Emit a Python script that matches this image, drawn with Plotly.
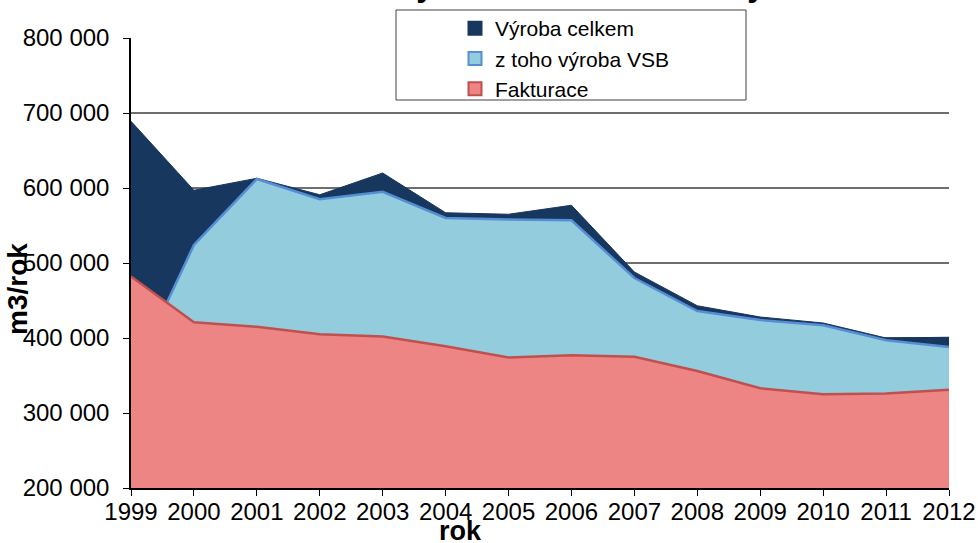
import plotly.graph_objects as go

years = [1999, 2000, 2001, 2002, 2003, 2004, 2005, 2006, 2007, 2008, 2009, 2010, 2011, 2012]
vyroba_celkem = [689000, 597000, 613000, 591000, 620000, 567000, 565000, 577000, 488000, 443000, 428000, 420000, 400000, 401000]
vyroba_vsb = [345000, 524000, 612000, 585000, 595000, 560000, 558000, 557000, 480000, 436000, 424000, 417000, 397000, 388000]
fakturace = [482000, 421000, 415000, 405000, 402000, 389000, 374000, 377000, 375000, 356000, 333000, 325000, 326000, 331000]

series_names = ["Výroba celkem", "z toho výroba VSB", "Fakturace"]
fill_colors = ["#17375E", "#93CDDD", "#ED8585"]
line_colors = ["#17375E", "#558ED5", "#C0504D"]
line_widths = [1, 2.5, 2.5]

y_ticks = [200000, 300000, 400000, 500000, 600000, 700000, 800000]
grid_vals = [300000, 400000, 500000, 600000, 700000]

FONT = "Liberation Sans, Arial, sans-serif"

fig = go.Figure()
for name, vals, fc, lc, lw in zip(series_names, [vyroba_celkem, vyroba_vsb, fakturace],
                                  fill_colors, line_colors, line_widths):
    fig.add_trace(go.Scatter(
        x=years, y=vals, mode="lines", fill="tozeroy", fillcolor=fc,
        line=dict(color=lc, width=lw), name=name, showlegend=False,
        hoverinfo="x+y+name"))

# legend entries with square swatches
for name, fc, lc in zip(series_names, fill_colors, line_colors):
    fig.add_trace(go.Scatter(
        x=[None], y=[None], mode="markers", name=name,
        marker=dict(symbol="square", size=13, color=fc, line=dict(color=lc, width=2))))

W, H = 978, 543
L, R, T, B = 131, 29, 38, 55
PW, PH = W - L - R, H - T - B

def px_x(x):
    return (x - L) / PW

def px_y(y):
    return (H - B - y) / PH

fig.update_layout(
    width=W, height=H,
    margin=dict(l=L, r=R, t=T, b=B, pad=0, autoexpand=False),
    paper_bgcolor="white", plot_bgcolor="white",
    separators=", ",
    font=dict(family=FONT, size=24, color="#000000"),
    showlegend=True,
    legend=dict(
        x=px_x(455), y=px_y(8), xanchor="left", yanchor="top",
        bgcolor="rgba(0,0,0,0)", borderwidth=0,
        font=dict(family=FONT, size=21, color="#000000"),
        tracegroupgap=0, itemwidth=30,
    ),
    shapes=[dict(type="rect", xref="paper", yref="paper",
                 x0=px_x(396), x1=px_x(746), y0=px_y(100), y1=px_y(10),
                 line=dict(color="#404040", width=1), fillcolor="white", layer="above")],
    annotations=[
        dict(text="<b>Výroba a fakturace vody</b>", xref="paper", yref="paper",
             x=px_x(580), y=px_y(5), xanchor="center", yanchor="bottom",
             showarrow=False, font=dict(family=FONT, size=32, color="#000000")),
        dict(text="<b>m3/rok</b>", xref="paper", yref="paper",
             x=px_x(17), y=px_y(289), xanchor="center", yanchor="middle", textangle=-90,
             showarrow=False, font=dict(family=FONT, size=28, color="#000000")),
        dict(text="<b>rok</b>", xref="paper", yref="paper",
             x=px_x(460), y=px_y(531), xanchor="center", yanchor="middle",
             showarrow=False, font=dict(family=FONT, size=27, color="#000000")),
    ],
    xaxis=dict(
        range=[1999, 2012], tickmode="array", tickvals=years, ticktext=[str(y) for y in years],
        automargin=False,
        showgrid=False, zeroline=False, showline=True, linecolor="#000000", linewidth=1.5,
        ticks="outside", ticklen=6, tickcolor="#000000", tickwidth=1,
        ticklabelstandoff=-5,
        tickfont=dict(family=FONT, size=24, color="#000000"),
    ),
    yaxis=dict(
        range=[200000, 800000], tickmode="array", tickvals=y_ticks,
        automargin=False,
        tickformat=",d", showgrid=False, zeroline=False,
        showline=True, linecolor="#000000", linewidth=1.5,
        ticks="outside", ticklen=6, tickcolor="#000000", tickwidth=1,
        ticklabelstandoff=9,
        tickfont=dict(family=FONT, size=24, color="#000000"),
        minor=dict(tickmode="array", tickvals=grid_vals, showgrid=True,
                   gridcolor="#6E6E6E", gridwidth=1.5, ticks=""),
    ),
)

fig.write_html("out.html", config={"displayModeBar": False},
               post_script="document.body.style.margin='0';document.body.style.overflow='hidden';")
